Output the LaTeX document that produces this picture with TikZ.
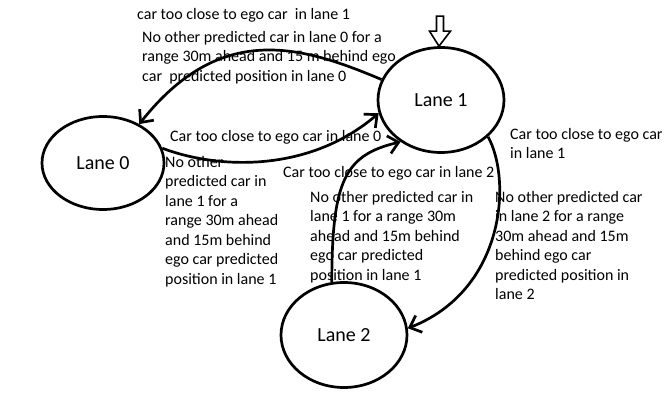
\documentclass[tikz,border=0pt]{standalone}
\usepackage{fontspec}
\setmainfont{Carlito}
\usetikzlibrary{arrows.meta,shapes.geometric}
\begin{document}
\begin{tikzpicture}[x=1pt,y=-1pt,
  state/.style={ellipse,draw,line width=2.7pt,inner sep=0pt,font=\fontsize{20}{24}\selectfont},
  lbl/.style={anchor=north west,inner sep=0pt,align=left,font=\fontsize{16}{19.5}\selectfont},
  conn/.style={line width=2.7pt,-{Straight Barb[length=10pt,width=18pt]}}]
\path[fill=white,use as bounding box] (0,0) rectangle (670,403);

\node[state,minimum width=122pt,minimum height=93pt] (l0) at (103,163) {Lane 0};
\node[state,minimum width=126pt,minimum height=105pt] (l1) at (441,100) {Lane 1};
\node[state,minimum width=126pt,minimum height=105pt] (l2) at (344,335) {Lane 2};

% initial arrow
\draw[line width=1.6pt,fill=white] (l1.north) ++(-2,0) -- ++(-9.5,-15) -- ++(7,0) -- ++(0,-15)
  -- ++(7,0) -- ++(0,15) -- ++(7,0) -- cycle;

% connectors
\draw[conn] (l1.161) .. controls (300,45) and (220,22) .. (l0.47);
\draw[conn] (l0.14) .. controls (220,170) and (310,172) .. (l1.192);
\draw[conn] (l2.103) .. controls (332,180) and (345,155) .. (l1.226);
\draw[conn] (l1.-38) .. controls (512,180) and (505,290) .. (l2.6);

% labels
\node[lbl] (tA) at (137,8) {car too close to ego car\ \ in lane 1};
\node[lbl] (tB) at (142,31) {No other predicted car in lane 0 for a\\range 30m ahead and 15 m behind ego\\car\ \ predicted position in lane 0};
\node[lbl] (tC) at (170,130) {Car too close to ego car in lane 0};
\node[lbl] (tD) at (165,156) {No other\\predicted car in\\lane 1 for a\\range 30m ahead\\and 15m behind\\ego car predicted\\position in lane 1};
\node[lbl] (tE) at (283,166) {Car too close to ego car in lane 2};
\node[lbl] (tF) at (310,191) {No other predicted car in\\lane 1 for a range 30m\\ahead and 15m behind\\ego car predicted\\position in lane 1};
\node[lbl] (tG) at (510,128) {Car too close to ego car\\in lane 1};
\node[lbl] (tH) at (495,191) {No other predicted car\\in lane 2 for a range\\30m ahead and 15m\\behind ego car\\predicted position in\\lane 2};
\end{tikzpicture}
\end{document}
